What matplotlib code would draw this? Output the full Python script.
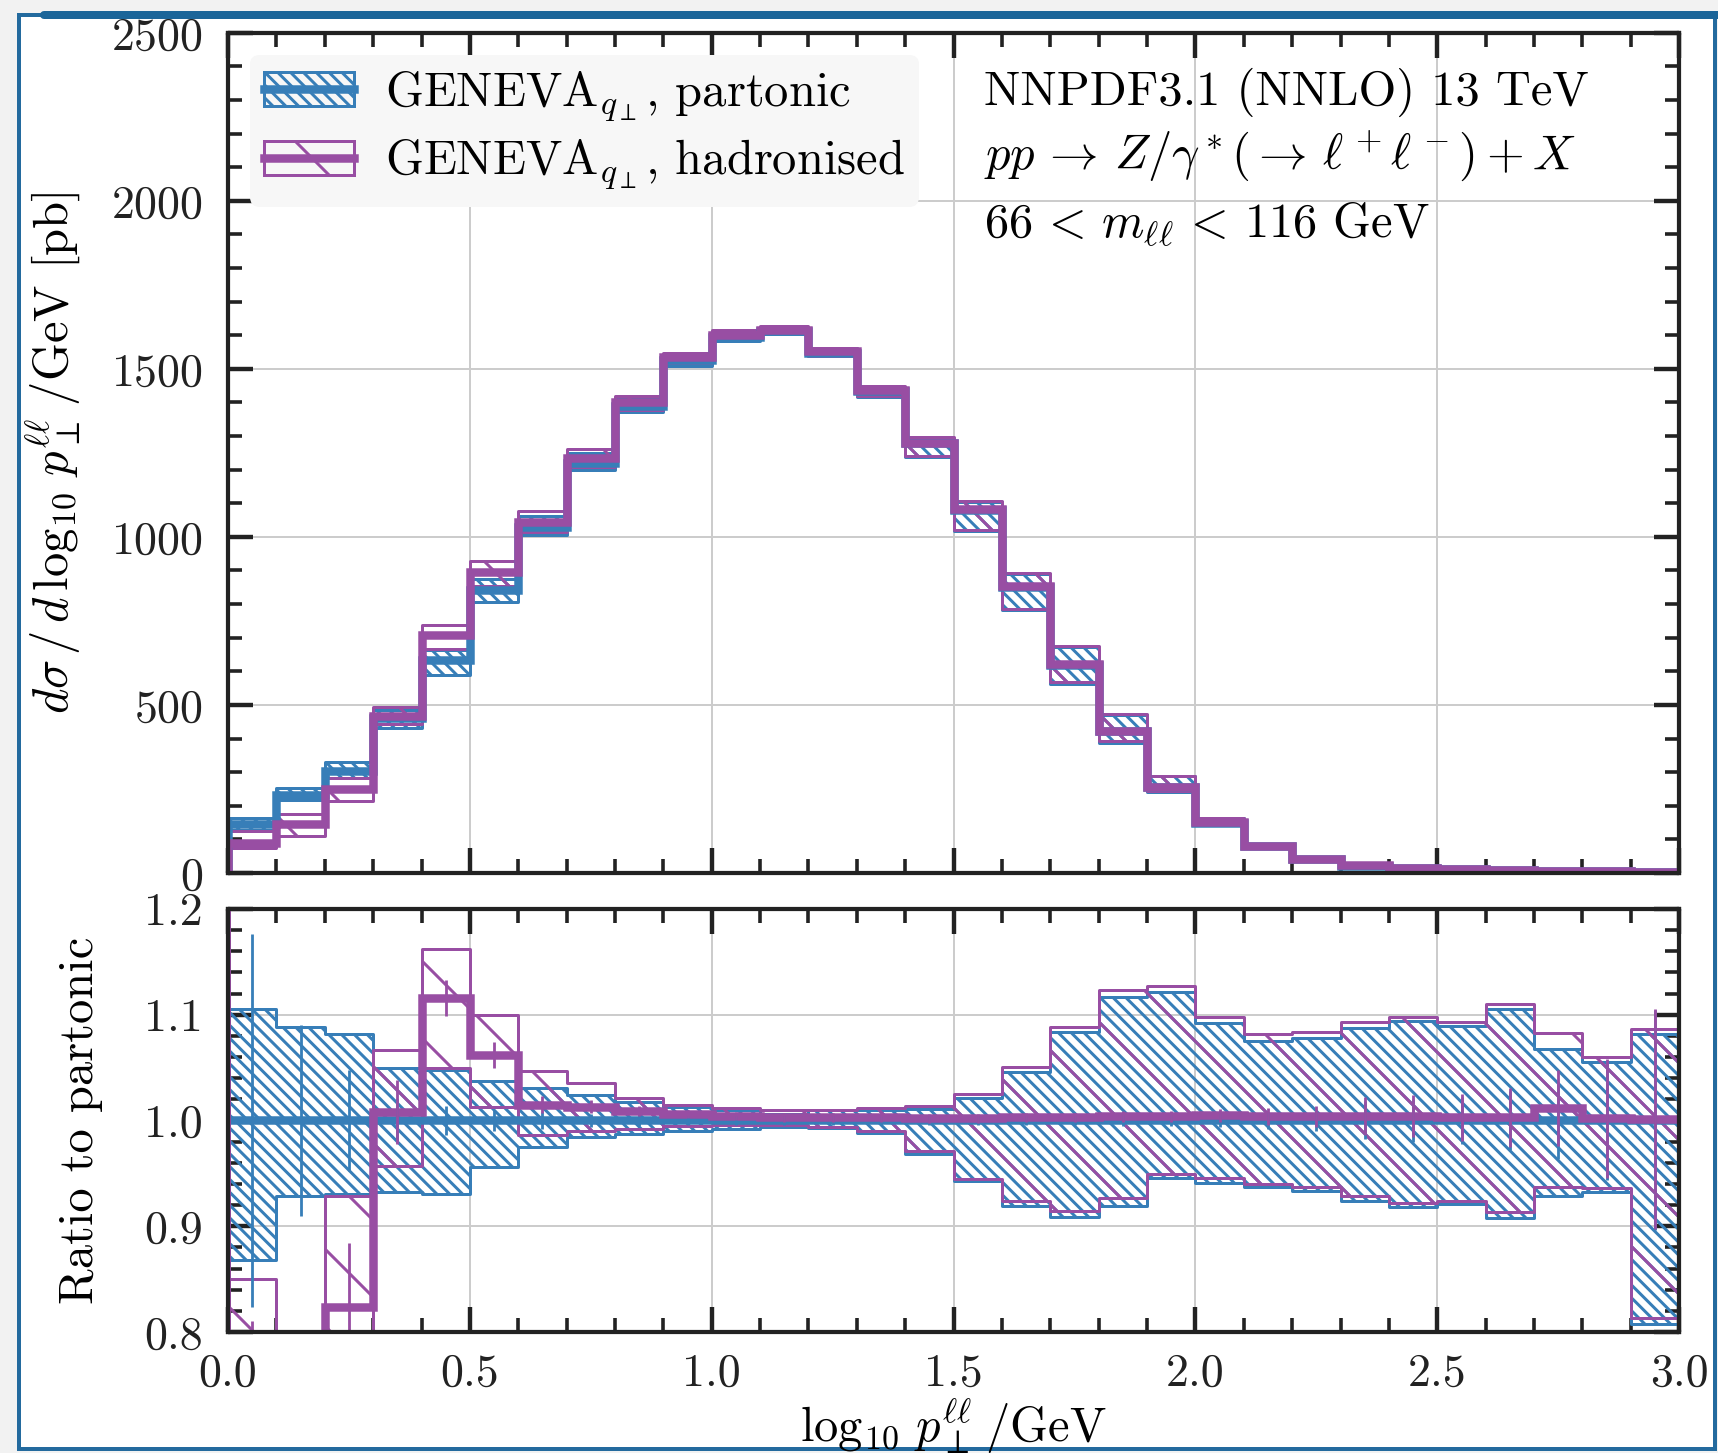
import numpy as np
import matplotlib
matplotlib.use("Agg")
import matplotlib.pyplot as plt
from matplotlib.lines import Line2D
from matplotlib.patches import Patch, Rectangle
from matplotlib.ticker import MultipleLocator, FormatStrFormatter

# bins in log10(pT/GeV)
edges = np.linspace(0.0, 3.0, 31)
centres = 0.5 * (edges[:-1] + edges[1:])

# partonic central value [pb]
partonic = [147, 233, 304, 462, 634, 843, 1030, 1220, 1390, 1525,
            1595, 1612, 1548, 1433, 1278, 1080, 850, 620, 422, 256,
            150, 79, 40, 22, 14, 11, 9, 7, 6, 4]
# partonic scale band, relative to partonic central
partonic_hi = [1.105, 1.088, 1.082, 1.050, 1.048, 1.037, 1.031, 1.024, 1.017, 1.013,
               1.010, 1.006, 1.010, 1.010, 1.011, 1.021, 1.046, 1.084, 1.117, 1.121,
               1.092, 1.075, 1.078, 1.087, 1.094, 1.089, 1.105, 1.068, 1.055, 1.082]
partonic_lo = [0.868, 0.929, 0.930, 0.932, 0.930, 0.956, 0.975, 0.984, 0.987, 0.990,
               0.992, 0.994, 0.993, 0.988, 0.968, 0.943, 0.919, 0.909, 0.919, 0.946,
               0.941, 0.937, 0.933, 0.924, 0.918, 0.921, 0.908, 0.929, 0.932, 0.808]
partonic_stat = [0.176, 0.090, 0.048, 0.020, 0.014, 0.010, 0.008, 0.006, 0.005, 0.004,
                 0.004, 0.004, 0.004, 0.004, 0.004, 0.004, 0.004, 0.004, 0.005, 0.005,
                 0.006, 0.008, 0.010, 0.018, 0.020, 0.022, 0.028, 0.036, 0.056, 0.104]

# hadronised / partonic
hadronised_ratio = [0.61, 0.62, 0.824, 1.008, 1.116, 1.062, 1.015, 1.013, 1.009, 1.006,
                    1.004, 1.003, 1.003, 1.003, 1.002, 1.002, 1.003, 1.003, 1.004, 1.004,
                    1.005, 1.004, 1.004, 1.004, 1.004, 1.003, 1.003, 1.012, 1.002, 1.001]
hadronised_hi = [0.85, 0.75, 0.929, 1.067, 1.162, 1.100, 1.047, 1.035, 1.021, 1.015,
                 1.012, 1.010, 1.010, 1.012, 1.014, 1.025, 1.051, 1.088, 1.123, 1.127,
                 1.098, 1.082, 1.084, 1.093, 1.098, 1.093, 1.110, 1.083, 1.060, 1.086]
hadronised_lo = [0.50, 0.47, 0.70, 0.957, 1.050, 1.013, 0.986, 0.990, 0.992, 0.995,
                 0.996, 0.996, 0.994, 0.990, 0.971, 0.945, 0.924, 0.914, 0.927, 0.949,
                 0.946, 0.940, 0.937, 0.929, 0.922, 0.924, 0.913, 0.937, 0.936, 0.813]
hadronised_stat = [0.20, 0.15, 0.060, 0.030, 0.017, 0.012, 0.008, 0.006, 0.005, 0.004,
                   0.004, 0.004, 0.004, 0.004, 0.004, 0.004, 0.004, 0.004, 0.005, 0.005,
                   0.006, 0.008, 0.010, 0.018, 0.020, 0.022, 0.028, 0.036, 0.056, 0.104]

labels = [r'GENEVA$_{q_\perp}$, partonic', r'GENEVA$_{q_\perp}$, hadronised']

blue = '#377eb8'
purple = '#984ea3'
blue_hatch = '\\' * 6
purple_hatch = '\\'

# work in pixels, convert to points for matplotlib
DPI = 231
W, H = 1718, 1453


def pt(px):
    return px * 72.0 / DPI


plt.rcParams.update({
    'font.family': 'serif',
    'font.serif': ['cmr10'],
    'mathtext.fontset': 'cm',
    'axes.formatter.use_mathtext': True,
    'font.size': pt(48.5),
    'xtick.labelsize': pt(46),
    'ytick.labelsize': pt(46),
    'hatch.linewidth': pt(3),
    'axes.unicode_minus': False,
})

fig = plt.figure(figsize=((W + 0.2) / DPI, (H + 0.2) / DPI), dpi=DPI, facecolor='#f2f2f2')

# slide frame round the plot
fig.patches.append(Rectangle((19 / W, 4 / H), (1715 - 19) / W, (1438 - 4) / H,
                             transform=fig.transFigure, facecolor='white',
                             edgecolor='#236a9e', lw=pt(4), zorder=-10))
fig.add_artist(Line2D([44 / W, 1.0], [1438 / H, 1438 / H], transform=fig.transFigure,
                      color='#1b6599', lw=pt(8), solid_capstyle='round'))

ax1 = fig.add_axes([228 / W, 1 - 873 / H, (1679 - 228) / W, (873 - 33) / H])
ax2 = fig.add_axes([228 / W, 1 - 1332 / H, (1679 - 228) / W, (1332 - 909) / H])

partonic = np.array(partonic, float)
p_hi = np.array(partonic_hi)
p_lo = np.array(partonic_lo)
h_rat = np.array(hadronised_ratio)
h_hi = np.array(hadronised_hi)
h_lo = np.array(hadronised_lo)
hadronised = partonic * h_rat

LW_LINE = pt(8.5)
LW_EDGE = pt(3)


def draw_band(ax, lo, hi, color, hatch):
    ax.fill_between(edges, np.append(lo, lo[-1]), np.append(hi, hi[-1]), step='post',
                    facecolor='none', edgecolor=color, hatch=hatch, lw=LW_EDGE)


# main distribution
draw_band(ax1, partonic * p_lo, partonic * p_hi, blue, blue_hatch)
draw_band(ax1, partonic * h_lo, partonic * h_hi, purple, purple_hatch)
ax1.stairs(partonic, edges, baseline=0, color=blue, lw=LW_LINE)
ax1.stairs(hadronised, edges, baseline=0, color=purple, lw=LW_LINE)

# ratio panel
draw_band(ax2, p_lo, p_hi, blue, blue_hatch)
draw_band(ax2, h_lo, h_hi, purple, purple_hatch)
ax2.stairs(np.ones_like(partonic), edges, baseline=None, color=blue, lw=LW_LINE)
ax2.stairs(h_rat, edges, baseline=None, color=purple, lw=LW_LINE)
ax2.axvline(edges[0], color=purple, lw=pt(5))
ax2.errorbar(centres, np.ones_like(partonic), yerr=partonic_stat, fmt='none',
             ecolor=blue, elinewidth=pt(2.8))
ax2.errorbar(centres, h_rat, yerr=hadronised_stat, fmt='none',
             ecolor=purple, elinewidth=pt(2.8))

for ax in (ax1, ax2):
    ax.set_xlim(0, 3)
    ax.xaxis.set_major_locator(MultipleLocator(0.5))
    ax.xaxis.set_minor_locator(MultipleLocator(0.1))
    ax.tick_params(which='both', direction='in', top=True, right=True, colors='#222222')
    ax.tick_params(which='major', length=pt(25), width=pt(4.4), pad=pt(25))
    ax.tick_params(which='minor', length=pt(14), width=pt(3.6))
    ax.grid(True, which='major', color='#cccccc', lw=pt(2))
    ax.set_axisbelow(True)
    for s in ax.spines.values():
        s.set_linewidth(pt(4.2))
        s.set_color('#222222')
ax2.tick_params(axis='x', which='major', pad=pt(21))

ax1.set_ylim(0, 2500)
ax1.yaxis.set_major_locator(MultipleLocator(500))
ax1.yaxis.set_minor_locator(MultipleLocator(100))
ax1.tick_params(labelbottom=False)
ax1.set_ylabel(r'$d\sigma\,/\,d\,\log_{10}\,p_\perp^{\ell\ell}\,/$GeV [pb]')
ax1.yaxis.set_label_coords(-0.100, 0.5)

ax2.set_ylim(0.8, 1.2)
ax2.yaxis.set_major_locator(MultipleLocator(0.1))
ax2.yaxis.set_minor_locator(MultipleLocator(0.02))
ax2.yaxis.set_major_formatter(FormatStrFormatter('%.1f'))
ax2.xaxis.set_major_formatter(FormatStrFormatter('%.1f'))
ax2.set_ylabel('Ratio to partonic')
ax2.yaxis.set_label_coords(-0.086, 0.5)
ax2.set_xlabel(r'$\log_{10}\,p_\perp^{\ell\ell}\,/$GeV')
ax2.xaxis.set_label_coords(0.5, -0.148)

handles = [
    (Patch(facecolor='none', edgecolor=blue, hatch=blue_hatch, lw=LW_EDGE),
     Line2D([], [], color=blue, lw=LW_LINE)),
    (Patch(facecolor='none', edgecolor=purple, hatch=purple_hatch, lw=LW_EDGE),
     Line2D([], [], color=purple, lw=LW_LINE)),
]
leg = ax1.legend(handles, labels, loc='upper left', bbox_to_anchor=(0.0151, 0.974),
                 borderaxespad=0, frameon=True, fancybox=True, framealpha=1,
                 facecolor='#f7f7f7', edgecolor='none', handlelength=1.85,
                 handletextpad=0.63, labelspacing=0.3, borderpad=0.3)

ax1.text(0.521, 0.929, 'NNPDF3.1 (NNLO) 13 TeV', transform=ax1.transAxes, va='center')
ax1.text(0.521, 0.854, r'$pp\,\rightarrow\,Z/\gamma^*(\rightarrow\,\ell^+\ell^-)+X$',
         transform=ax1.transAxes, va='center')
ax1.text(0.521, 0.772, r'$66\,<\,m_{\ell\ell}\,<\,116$ GeV', transform=ax1.transAxes,
         va='center')

fig.savefig('out.png', dpi=DPI, facecolor=fig.get_facecolor())
